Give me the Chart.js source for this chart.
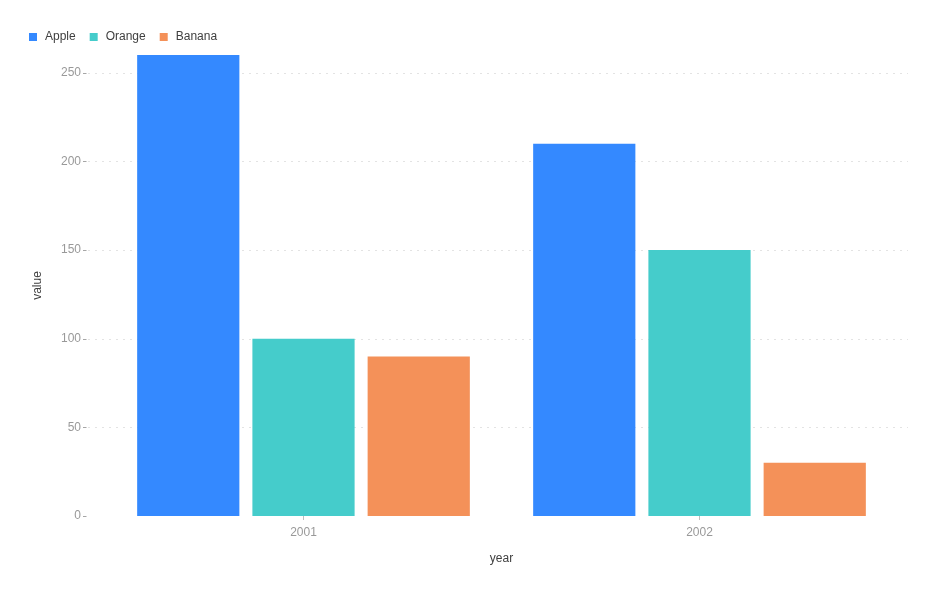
<!DOCTYPE html>
<html>
<head>
<meta charset="utf-8">
<script src="https://cdn.jsdelivr.net/npm/chart.js@4"></script>
<style>
  html, body { margin: 0; padding: 0; background: #fff; }
  #wrap { width: 950px; height: 600px; }
</style>
</head>
<body>
<div id="wrap"><canvas id="myChart"></canvas></div>
<script>
// - Dados

const years = ['2001', '2002']
const apple = [260, 210]
const orange = [100, 150]
const banana = [90, 30]
const yTicks = [0, 50, 100, 150, 200, 250]

Chart.defaults.font.family = '"Liberation Sans", Arial, sans-serif'
Chart.defaults.font.size = 12

// grade tracejada + tracinhos do eixo y
const gridPlugin = {
  id: 'dashGrid',
  beforeDatasetsDraw(chart) {
    const { ctx, chartArea, scales } = chart
    const y = scales.y
    ctx.save()
    yTicks.forEach(v => {
      const py = Math.round(y.getPixelForValue(v)) + 0.5
      if (v !== 0) {
        ctx.strokeStyle = '#e3e3e3'
        ctx.lineWidth = 1
        ctx.setLineDash([2, 5])
        ctx.beginPath()
        ctx.moveTo(chartArea.left - 17.5, py)
        ctx.lineTo(chartArea.right + 10.5, py)
        ctx.stroke()
      }
      ctx.setLineDash([])
      ctx.strokeStyle = '#a6a6a6'
      ctx.beginPath()
      ctx.moveTo(chartArea.left - 22.5, py)
      ctx.lineTo(chartArea.left - 19, py)
      ctx.stroke()
    })
    ctx.restore()
  },
  beforeLayout(chart) {
    const lg = chart.legend
    if (lg && !lg._patched) {
      const fit = lg.fit.bind(lg)
      lg.fit = function () { fit(); this.height += 2 }
      lg._patched = true
    }
  }
}

const data = {
  labels: years,
  datasets: [{
    label: 'Apple',
    backgroundColor: '#3489FF',
    data: apple,
  },
  {
    label: 'Orange',
    backgroundColor: '#45CCCB',
    data: orange,
  },
  {
    label: 'Banana',
    backgroundColor: '#F49159',
    data: banana,
  }]
}

const config = {
  type: 'bar',
  data: data,
  options: {
    maintainAspectRatio: false,
    animation: false,
    layout: { padding: { left: 15, top: 19, right: 52.5, bottom: 0 } },
    datasets: {
      bar: { categoryPercentage: 0.873, barPercentage: 0.887 }
    },
    plugins: {
      legend: {
        position: 'top',
        align: 'start',
        labels: {
          usePointStyle: true,
          pointStyle: 'rect',
          boxWidth: 12,
          boxHeight: 8,
          padding: 12,
          color: '#404040',
          font: { size: 12 }
        }
      },
      tooltip: { enabled: false }
    },
    scales: {
      x: {
        grid: {
          display: true,
          offset: false,
          drawOnChartArea: false,
          drawTicks: true,
          tickLength: 4,
          tickColor: '#bfbfbf'
        },
        border: { display: false },
        ticks: { color: '#999999', padding: 5, font: { size: 12 } },
        title: {
          display: true,
          text: 'year',
          color: '#404040',
          font: { size: 12 },
          padding: { top: 4, bottom: 34 }
        },
        afterFit(scale) { scale.height = 84 }
      },
      y: {
        min: 0,
        max: 260,
        grid: { display: false },
        border: { display: false },
        ticks: {
          stepSize: 50,
          includeBounds: false,
          color: '#999999',
          padding: 16.5,
          font: { size: 12 }
        },
        title: {
          display: true,
          text: 'value',
          color: '#404040',
          font: { size: 12 },
          padding: { top: 15, bottom: 4 }
        },
        afterFit(scale) { scale.width = 90.5 }
      }
    }
  },
  plugins: [gridPlugin]
}

const myChart = new Chart(
  document.getElementById('myChart'),
  config
)
</script>
</body>
</html>
